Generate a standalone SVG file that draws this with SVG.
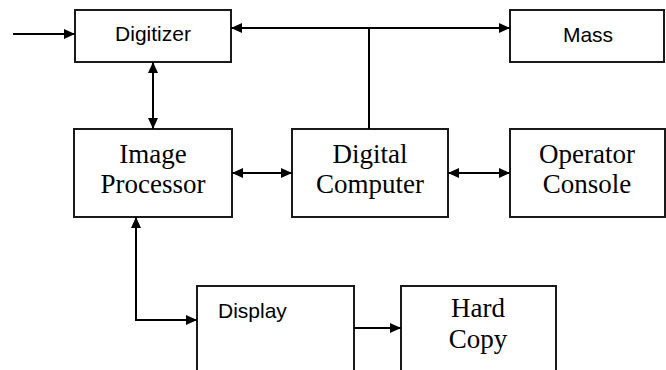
<svg xmlns="http://www.w3.org/2000/svg" width="666" height="370" viewBox="0 0 666 370">
<style>
.box{fill:#fff;stroke:#1a1a1a;stroke-width:2}
.ln{fill:none;stroke:#000;stroke-width:2}
.sans{font-family:"Liberation Sans",Arial,sans-serif;font-size:21px;fill:#000}
.serif{font-family:"Liberation Serif","Times New Roman",serif;font-size:27px;fill:#000;text-anchor:middle}
</style>
<defs>
<marker id="ah" viewBox="0 0 11 10" refX="11" refY="5" markerWidth="11" markerHeight="10" markerUnits="userSpaceOnUse" orient="auto-start-reverse">
<path d="M0,0 L11,5 L0,10 z" fill="#000"/>
</marker>
</defs>
<rect width="666" height="370" fill="#fff"/>
<g id="digitizer">
<rect class="box" x="75" y="10" width="156" height="52"/>
<text class="sans" x="153" y="41" text-anchor="middle">Digitizer</text>
</g>
<g id="mass">
<rect class="box" x="510" y="10" width="154" height="52"/>
<text class="sans" x="588" y="42" text-anchor="middle">Mass</text>
</g>
<g id="image-processor">
<rect class="box" x="74" y="129" width="158" height="88"/>
<text class="serif" x="153" y="163">Image</text>
<text class="serif" x="153" y="193">Processor</text>
</g>
<g id="digital-computer">
<rect class="box" x="292" y="129" width="156" height="88"/>
<text class="serif" x="370" y="163">Digital</text>
<text class="serif" x="370" y="193">Computer</text>
</g>
<g id="operator-console">
<rect class="box" x="510" y="129" width="155" height="88"/>
<text class="serif" x="587" y="163">Operator</text>
<text class="serif" x="587" y="193">Console</text>
</g>
<g id="display">
<rect class="box" x="197" y="286" width="157" height="100"/>
<text class="sans" x="218" y="318">Display</text>
</g>
<g id="hard-copy">
<rect class="box" x="401" y="286" width="155" height="100"/>
<text class="serif" x="478" y="317">Hard</text>
<text class="serif" x="478" y="348">Copy</text>
</g>
<g id="connectors">
<line class="ln" x1="13" y1="34" x2="75" y2="34" marker-end="url(#ah)"/>
<line class="ln" x1="231" y1="28" x2="510" y2="28" marker-start="url(#ah)" marker-end="url(#ah)"/>
<line class="ln" x1="369" y1="28" x2="369" y2="129"/>
<line class="ln" x1="153" y1="62" x2="153" y2="129" marker-start="url(#ah)" marker-end="url(#ah)"/>
<line class="ln" x1="232" y1="173" x2="292" y2="173" marker-start="url(#ah)" marker-end="url(#ah)"/>
<line class="ln" x1="448" y1="173" x2="510" y2="173" marker-start="url(#ah)" marker-end="url(#ah)"/>
<path class="ln" d="M136,217 L136,320 L197,320" marker-start="url(#ah)" marker-end="url(#ah)"/>
<line class="ln" x1="354" y1="328" x2="401" y2="328" marker-end="url(#ah)"/>
</g>
</svg>
